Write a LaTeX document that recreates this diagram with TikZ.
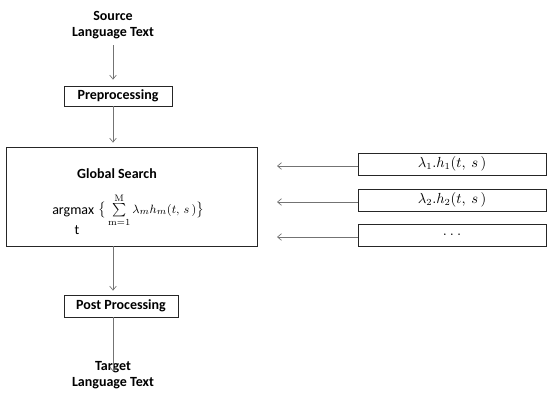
\documentclass[tikz,border=0pt]{standalone}
\usepackage[no-math]{fontspec}
\setmainfont{Carlito}
\usetikzlibrary{arrows.meta}
\begin{document}
\begin{tikzpicture}[x=0.75pt,y=-0.75pt,
  font=\fontsize{10.5}{12.5}\selectfont,
  box/.style={draw=black!85, line width=0.6pt, inner sep=0pt, font=\fontsize{10.5}{12.5}\selectfont\bfseries},
  fbox/.style={box, font=\fontsize{10.5}{12.5}\selectfont, minimum width=188*0.75pt, minimum height=22*0.75pt},
  lbl/.style={align=center, font=\fontsize{10.5}{12.5}\selectfont\bfseries, inner sep=0pt},
  arr/.style={draw=black!55, line width=0.5pt, -{Straight Barb[length=3pt,width=5pt]}}]
\useasboundingbox (0,0) rectangle (548,405);
% left column
\node[lbl] (src) at (113,25) {Source\\[-1pt]Language Text};
\node[box, minimum width=108*0.75pt, minimum height=20*0.75pt] (pre) at (118,96) {Preprocessing};
\node[box, minimum width=251*0.75pt, minimum height=99*0.75pt] (gs) at (131.5,196.5) {};
\node[lbl] (gst) at (117,174) {Global Search};
\node[inner sep=0pt, anchor=west] (am) at (52,212) {argmax};
\node[inner sep=0pt] (t) at (77,230) {t};
\node[inner sep=0pt, anchor=west, font=\fontsize{9.5}{11}\selectfont] (fm) at (98,210) {$\big\{\textstyle\sum\limits_{\mathrm{m=1}}^{\mathrm{M}}\lambda_m h_m(t,\,s\,)\big\}$};
\node[box, minimum width=114*0.75pt, minimum height=22*0.75pt] (post) at (121,306) {Post Processing};
\node[lbl] (tgt) at (113,375) {Target\\[-1pt]Language Text};
% right column
\node[fbox] (f1) at (452,164) {$\lambda_1.h_1(t,\ s\,)$};
\node[fbox] (f2) at (452,200) {$\lambda_2.h_2(t,\ s\,)$};
\node[fbox] (f3) at (452,235) {$.\ .\ .$};
\coordinate (e1) at (277,166);
\coordinate (e2) at (277,202);
\coordinate (e3) at (277,237);
% connectors
\coordinate (a0) at (113,45);
\draw[arr] (a0) -- ([yshift=6*0.75pt]pre.north -| a0);
\draw[arr] (pre.south -| a0) -- ([yshift=4*0.75pt]gs.north -| a0);
\draw[arr] (gs.south -| a0) -- ([yshift=4*0.75pt]post.north -| a0);
\draw[arr] (post.south -| a0) -- ([yshift=-10*0.75pt]tgt.north -| a0);
\draw[arr] (f1.west |- e1) -- (e1);
\draw[arr] (f2.west |- e2) -- (e2);
\draw[arr] (f3.west |- e3) -- (e3);
\end{tikzpicture}
\end{document}
